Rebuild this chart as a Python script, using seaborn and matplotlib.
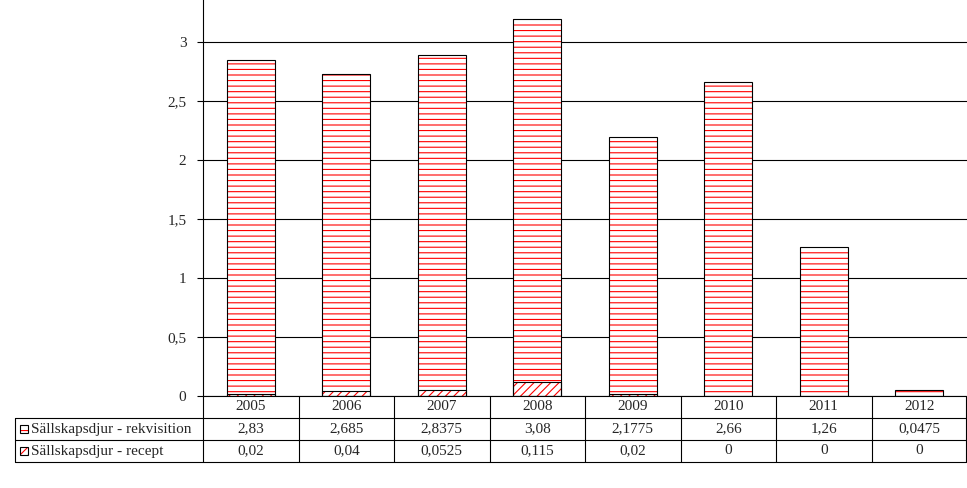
import matplotlib
matplotlib.use("Agg")
import matplotlib.pyplot as plt
import seaborn as sns
import pandas as pd
from matplotlib.lines import Line2D
from matplotlib.patches import Rectangle

years = ["2005","2006","2007","2008","2009","2010","2011","2012"]
rekv = [2.83,2.685,2.8375,3.08,2.1775,2.66,1.26,0.0475]
recept = [0.02,0.04,0.0525,0.115,0.02,0,0,0]
rekv_txt = ["2,83","2,685","2,8375","3,08","2,1775","2,66","1,26","0,0475"]
rec_txt = ["0,02","0,04","0,0525","0,115","0,02","0","0","0"]
labels = ["Sällskapsdjur - rekvisition","Sällskapsdjur - recept"]

sns.set_style("white")
plt.rcParams['font.family'] = ['Liberation Serif','DejaVu Sans']
plt.rcParams['hatch.linewidth'] = 0.8
W, H = 967, 488
fig = plt.figure(figsize=(W/100, H/100), dpi=100)
ax = fig.add_axes([203/W, (H-396)/H, (W-203)/W, 396/H])
df = pd.DataFrame({"year": years, "total": [a+b for a, b in zip(rekv, recept)], "rec": recept})
sns.barplot(data=df, x="year", y="total", color="white", edgecolor="red", linewidth=0, width=0.5, ax=ax)
for p in ax.patches: p.set_hatch("---")
n = len(ax.patches)
sns.barplot(data=df, x="year", y="rec", color="white", edgecolor="red", linewidth=0, width=0.5, ax=ax)
for p in ax.patches[n:]: p.set_hatch("////")
sns.barplot(data=df, x="year", y="total", fill=False, edgecolor="black", linewidth=0.8, width=0.5, ax=ax)
sns.barplot(data=df, x="year", y="rec", fill=False, edgecolor="black", linewidth=0.8, width=0.5, ax=ax)
ax.set_ylim(0, 3.356)
ax.set_xlim(-0.5, 7.5)
ax.set_yticks([0,0.5,1,1.5,2,2.5,3])
ax.set_yticklabels(["0","0,5","1","1,5","2","2,5","3"], fontsize=11)
ax.yaxis.grid(True, color="black", linewidth=0.8)
ax.set_axisbelow(True)
ax.set_xticks([]); ax.set_xlabel(""); ax.set_ylabel("")
for s in ["top","right","bottom"]: ax.spines[s].set_visible(False)
ax.spines["left"].set_color("black"); ax.spines["left"].set_linewidth(0.8)
ax.tick_params(axis="y", length=4, color="black", left=True, pad=8)

def fx(x): return x/W
def fy(y): return 1-y/H
colw = (W-203)/8
def line(x0,y0,x1,y1):
    fig.add_artist(Line2D([fx(x0),fx(x1)],[fy(y0),fy(y1)],color="black",lw=0.8))
line(203,396,966,396); line(15,418,966,418); line(15,440,966,440); line(15,462,966,462)
line(15,418,15,462)
for i in range(9):
    x = 203+colw*i if i < 8 else 966
    line(x,396,x,462)
for i,(y,a,b) in enumerate(zip(years,rekv_txt,rec_txt)):
    cx = fx(203+colw*(i+0.5))
    fig.text(cx, fy(407), y, ha="center", va="center", fontsize=11)
    fig.text(cx, fy(429), a, ha="center", va="center", fontsize=11)
    fig.text(cx, fy(451), b, ha="center", va="center", fontsize=11)
for j,(lab,h) in enumerate(zip(labels,["---","////"])):
    yc = 429+22*j
    fig.add_artist(Rectangle((fx(20), fy(yc+4)), 8/W, 8/H, facecolor="white", edgecolor="red", hatch=h, lw=0))
    fig.add_artist(Rectangle((fx(20), fy(yc+4)), 8/W, 8/H, fill=False, edgecolor="black", lw=0.8))
    fig.text(fx(31), fy(yc), lab, ha="left", va="center", fontsize=11)
fig.savefig("out.png", dpi=100)
